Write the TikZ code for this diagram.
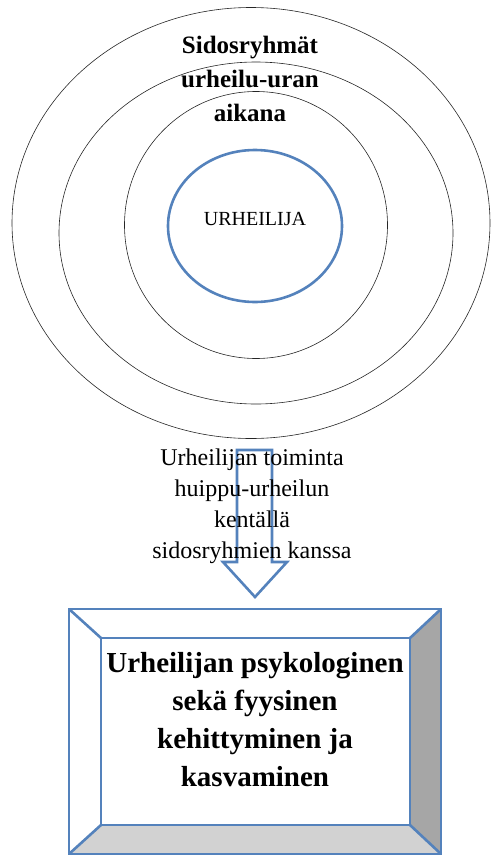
\documentclass[tikz,border=0pt]{standalone}
\usepackage{fontspec}
\setmainfont{Liberation Serif}
\usetikzlibrary{positioning, shapes.geometric}
\definecolor{ringblue}{RGB}{84,130,188}
\definecolor{bandgray}{RGB}{166,166,166}
\definecolor{floorgray}{RGB}{210,210,210}

\begin{document}
\begin{tikzpicture}[
        x=1pt, y=-1pt,
        ring/.style={ellipse, draw=black!85, line width=0.6pt, inner sep=0pt},
        corering/.style={ellipse, draw=ringblue, line width=2.6pt, inner sep=0pt, align=center, font=\fontsize{20}{22}\selectfont},
        titletext/.style={align=center, font=\fontsize{25}{34}\selectfont\bfseries},
        flowtext/.style={align=center, font=\fontsize{24}{31}\selectfont},
        boxtext/.style={align=center, font=\fontsize{29}{38}\selectfont\bfseries},
        blueline/.style={draw=ringblue, line width=2.6pt, line join=miter},
    ]
        \useasboundingbox (0,0) rectangle (491,857);

        % concentric stakeholder rings
        \node[ring, minimum width=478pt, minimum height=431pt] (outer) at (251,223) {};
        \node[ring, minimum width=394pt, minimum height=342pt] (middle) at (256,233) {};
        \node[ring, minimum width=263pt, minimum height=267pt] (inner) at (256,225) {};
        \node[corering, minimum width=174pt, minimum height=152pt] (athlete) at (255,226) {\raisebox{14pt}{URHEILIJA}};
        \node[titletext] (groups) at (250,79) {Sidosryhmät\\urheilu-uran\\aikana};

        % block arrow down to the result box
        \coordinate (tip) at (255,597);
        \draw[blueline] (237,450) -- (272,450) -- (272,562) -- (287,562) -- (tip) -- (223,562) -- (237,562) -- cycle;
        \node[flowtext] (action) at (252,506) {Urheilijan toiminta\\huippu-urheilun\\kentällä\\sidosryhmien kanssa};

        % bevelled result box
        \coordinate (otl) at (69,609);
        \coordinate (otr) at (441,609);
        \coordinate (obr) at (441,854);
        \coordinate (obl) at (69,854);
        \coordinate (itl) at (101,638);
        \coordinate (itr) at (410,638);
        \coordinate (ibr) at (410,825);
        \coordinate (ibl) at (101,825);
        \fill[bandgray] (otr) -- (obr) -- (ibr) -- (itr) -- cycle;
        \fill[floorgray] (obl) -- (obr) -- (ibr) -- (ibl) -- cycle;
        \draw[blueline] (otl) rectangle (obr);
        \draw[blueline] (itl) rectangle (ibr);
        \draw[blueline] (otl) -- (itl) (otr) -- (itr) (obr) -- (ibr) (obl) -- (ibl);
        \node[boxtext] (growth) at (255,720) {Urheilijan psykologinen\\sekä fyysinen\\kehittyminen ja\\kasvaminen};
    \end{tikzpicture}
\end{document}
